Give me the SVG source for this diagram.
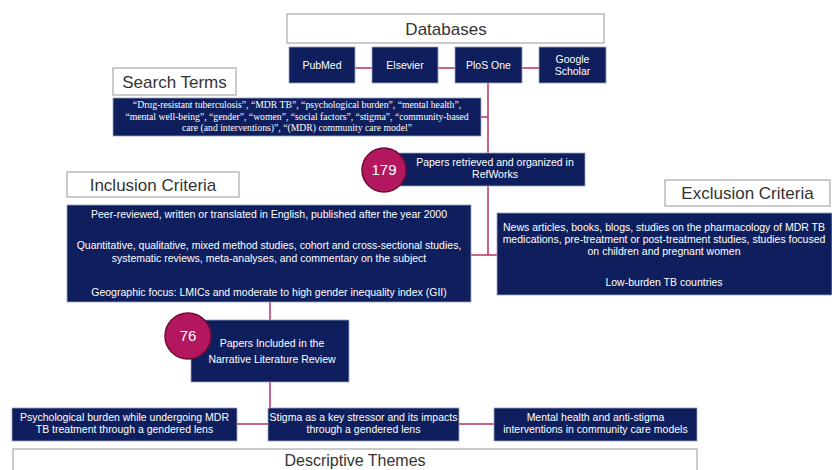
<svg xmlns="http://www.w3.org/2000/svg" width="832" height="470" viewBox="0 0 832 470">
<defs>
<style>
.nav{fill:#0f1f5e;stroke:#9aa3bd;stroke-width:0.8}
.lab{fill:#fff;stroke:#a8a8a8;stroke-width:1.2}
.lt{font-family:"Liberation Sans",Arial,sans-serif;font-size:17px;fill:#333;text-anchor:middle}
.wt{font-family:"Liberation Sans",Arial,sans-serif;font-size:10.5px;fill:#fff;text-anchor:middle}
.st{font-family:"Liberation Serif","Times New Roman",serif;font-size:9.7px;fill:#fff;text-anchor:middle}
.con{stroke:#b8325f;stroke-width:1.5;fill:none}
.circ{fill:#b3175e;stroke:#6e0c36;stroke-width:1.5}
.ct{font-family:"Liberation Sans",Arial,sans-serif;font-size:15px;fill:#fff;text-anchor:middle}
</style>
</defs>
<rect width="832" height="470" fill="#fff"/>
<g id="connectors">
<line class="con" x1="355" y1="68" x2="372" y2="68"/>
<line class="con" x1="438" y1="68" x2="455" y2="68"/>
<line class="con" x1="522" y1="68" x2="539" y2="68"/>
<line class="con" x1="488" y1="83" x2="488" y2="153"/>
<line class="con" x1="481" y1="117" x2="488" y2="117"/>
<line class="con" x1="488" y1="186" x2="488" y2="255"/>
<line class="con" x1="471" y1="255" x2="497" y2="255"/>
<line class="con" x1="270" y1="302" x2="270" y2="320"/>
<line class="con" x1="270" y1="382" x2="270" y2="408"/>
<line class="con" x1="237" y1="424" x2="268" y2="424"/>
<line class="con" x1="459" y1="424" x2="494" y2="424"/>
</g>
<g id="databases">
<rect class="lab" x="287" y="14" width="317" height="29"/>
<text class="lt" x="446" y="35">Databases</text>
</g>
<g id="pubmed">
<rect class="nav" x="289" y="47" width="66" height="36"/>
<text class="wt" x="322" y="69">PubMed</text>
</g>
<g id="elsevier">
<rect class="nav" x="372" y="47" width="66" height="36"/>
<text class="wt" x="405" y="69">Elsevier</text>
</g>
<g id="plos">
<rect class="nav" x="455" y="47" width="67" height="36"/>
<text class="wt" x="488.5" y="69">PloS One</text>
</g>
<g id="google">
<rect class="nav" x="539" y="47" width="67" height="36"/>
<text class="wt" x="572.5" y="63">Google</text>
<text class="wt" x="572.5" y="75">Scholar</text>
</g>
<g id="search-terms-label">
<rect class="lab" x="113" y="68" width="123" height="27"/>
<text class="lt" x="174.5" y="88">Search Terms</text>
</g>
<g id="search-terms">
<rect class="nav" x="113" y="98" width="368" height="38"/>
<text class="st" x="297" y="108">“Drug-resistant tuberculosis”, “MDR TB”, “psychological burden”, “mental health”,</text>
<text class="st" x="297" y="119.5">“mental well-being”, “gender”, “women”, “social factors”, “stigma”, “community-based</text>
<text class="st" x="297" y="131">care (and interventions)”, “(MDR) community care model”</text>
</g>
<g id="retrieved">
<rect class="nav" x="384" y="153" width="201" height="33"/>
<circle class="circ" cx="384" cy="170" r="22"/>
<text class="ct" x="384" y="175">179</text>
<text class="wt" x="495" y="166">Papers retrieved and organized in</text>
<text class="wt" x="495" y="178">RefWorks</text>
</g>
<g id="inclusion-label">
<rect class="lab" x="67" y="172" width="172" height="25"/>
<text class="lt" x="153" y="191">Inclusion Criteria</text>
</g>
<g id="inclusion">
<rect class="nav" x="67" y="205" width="404" height="97"/>
<text class="wt" x="269" y="218">Peer-reviewed, written or translated in English, published after the year 2000</text>
<text class="wt" x="269" y="249">Quantitative, qualitative, mixed method studies, cohort and cross-sectional studies,</text>
<text class="wt" x="269" y="262">systematic reviews, meta-analyses, and commentary on the subject</text>
<text class="wt" x="269" y="296">Geographic focus: LMICs and moderate to high gender inequality index (GII)</text>
</g>
<g id="exclusion-label">
<rect class="lab" x="665" y="180" width="165" height="26"/>
<text class="lt" x="747.5" y="199">Exclusion Criteria</text>
</g>
<g id="exclusion">
<rect class="nav" x="497" y="213" width="335" height="82"/>
<text class="wt" x="664" y="231">News articles, books, blogs, studies on the pharmacology of MDR TB</text>
<text class="wt" x="664" y="243">medications, pre-treatment or post-treatment studies, studies focused</text>
<text class="wt" x="664" y="255">on children and pregnant women</text>
<text class="wt" x="664" y="286">Low-burden TB countries</text>
</g>
<g id="included">
<rect class="nav" x="191" y="320" width="158" height="62"/>
<circle class="circ" cx="188" cy="336" r="23"/>
<text class="ct" x="188" y="341">76</text>
<text class="wt" x="272" y="347">Papers Included in the</text>
<text class="wt" x="272" y="363">Narrative Literature Review</text>
</g>
<g id="theme-psych">
<rect class="nav" x="12" y="408" width="225" height="33"/>
<text class="wt" x="124.5" y="421">Psychological burden while undergoing MDR</text>
<text class="wt" x="124.5" y="433">TB treatment through a gendered lens</text>
</g>
<g id="theme-stigma">
<rect class="nav" x="268" y="408" width="191" height="33"/>
<text class="wt" x="363.5" y="421">Stigma as a key stressor and its impacts</text>
<text class="wt" x="363.5" y="433">through a gendered lens</text>
</g>
<g id="theme-mental">
<rect class="nav" x="494" y="408" width="203" height="33"/>
<text class="wt" x="595.5" y="421">Mental health and anti-stigma</text>
<text class="wt" x="595.5" y="433">interventions  in community care models</text>
</g>
<g id="descriptive-themes">
<rect class="lab" x="13" y="449" width="684" height="30"/>
<text class="lt" x="355" y="466" style="font-size:16px">Descriptive Themes</text>
</g>
</svg>
